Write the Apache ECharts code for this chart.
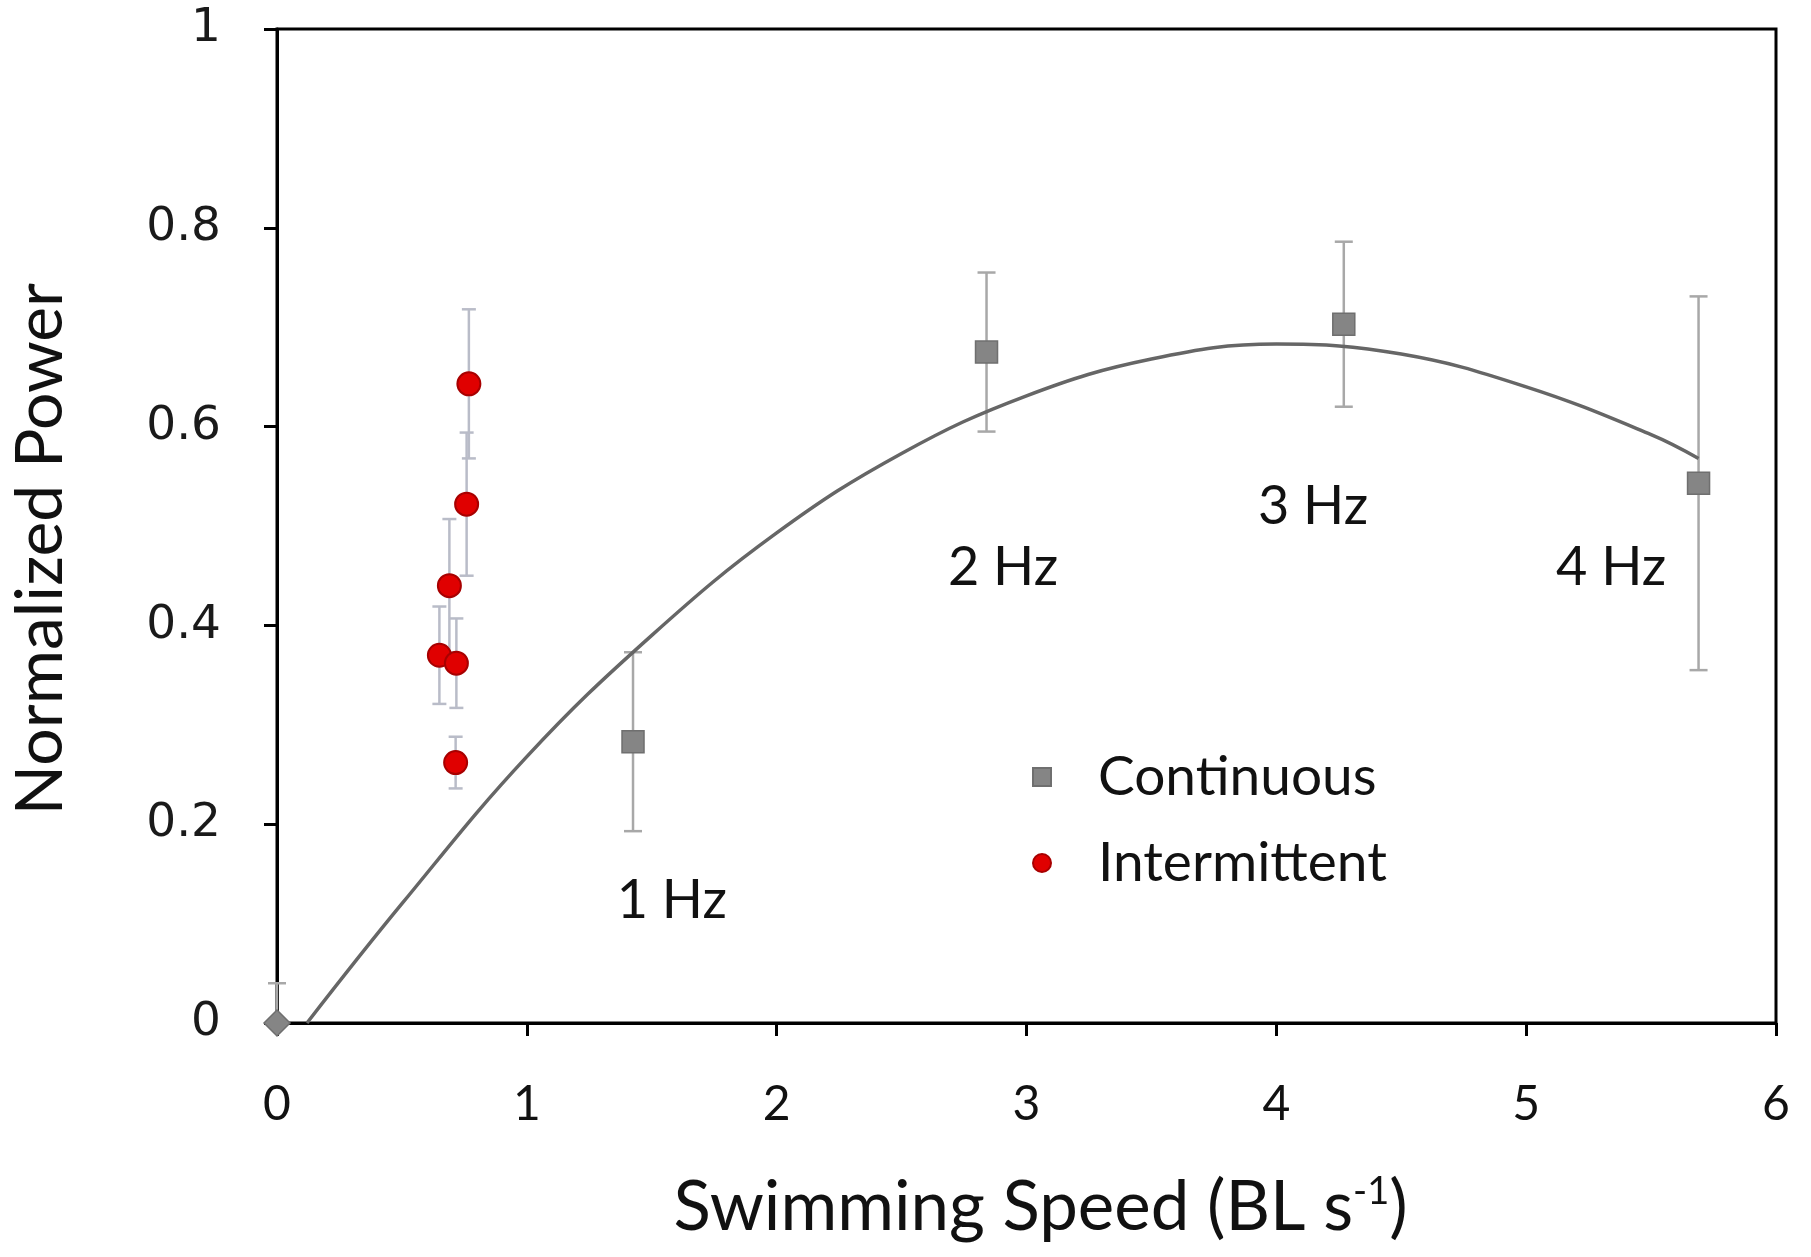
<!DOCTYPE html>
<html>
<head>
<meta charset="utf-8">
<script src="https://cdn.jsdelivr.net/npm/echarts@6/dist/echarts.min.js"></script>
<style>
  html, body { margin: 0; padding: 0; background: #fff; }
  #chart { width: 1811px; height: 1257px; }
</style>
</head>
<body>
<div id="chart"></div>
<script>
// ---- data ----
const xTickLabels = ['0', '1', '2', '3', '4', '5', '6'];
const yTickLabels = ['0', '0.2', '0.4', '0.6', '0.8', '1'];

const contX   = [0, 1.425, 2.84, 4.27, 5.69];
const contY   = [0, 0.283, 0.675, 0.703, 0.543];
const contErr = [0.04, 0.09, 0.08, 0.083, 0.188];

const intX   = [0.768, 0.759, 0.69, 0.65, 0.718, 0.715];
const intY   = [0.643, 0.522, 0.44, 0.37, 0.362, 0.262];
const intErr = [0.075, 0.072, 0.067, 0.049, 0.045, 0.026];

// trendline
const curveX = [0.12, 0.5, 1.0, 1.5, 2.0, 2.5, 3.0, 3.5, 4.0, 4.5, 5.0, 5.5, 5.69];
const curveY = [0, 0.12, 0.268, 0.39, 0.493, 0.573, 0.631, 0.668, 0.683, 0.673, 0.64, 0.592, 0.568];

const hzText = ['1 Hz', '2 Hz', '3 Hz', '4 Hz'];
const hzX = [1.58, 2.906, 4.147, 5.34];
const hzY = [0.123, 0.458, 0.52, 0.458];

// ---- build ----
const contPts = contX.map((x, i) => [x, contY[i]]);
const contBars = contX.map((x, i) => [x, Math.max(0, contY[i] - contErr[i]), contY[i] + contErr[i]]);
const intPts = intX.map((x, i) => [x, intY[i]]);
const intBars = intX.map((x, i) => [x, intY[i] - intErr[i], intY[i] + intErr[i]]);
const curvePts = curveX.map((x, i) => [x, curveY[i]]);
const hzPts = hzX.map((x, i) => ({ value: [x, hzY[i]], name: hzText[i] }));

function errRender(capW, color, lw) {
  return function (params, api) {
    const x = api.value(0), lo = api.value(1), hi = api.value(2);
    const pHi = api.coord([x, hi]);
    const pLo = api.coord([x, lo]);
    const st = { stroke: color, lineWidth: lw };
    return {
      type: 'group',
      children: [
        { type: 'line', shape: { x1: pHi[0], y1: pHi[1], x2: pLo[0], y2: pLo[1] }, style: st },
        { type: 'line', shape: { x1: pHi[0] - capW / 2, y1: pHi[1], x2: pHi[0] + capW / 2, y2: pHi[1] }, style: st },
        { type: 'line', shape: { x1: pLo[0] - capW / 2, y1: pLo[1], x2: pLo[0] + capW / 2, y2: pLo[1] }, style: st }
      ]
    };
  };
}

const chart = echarts.init(document.getElementById('chart'));
const titleFont = 'Lato, "Open Sans", sans-serif';

chart.setOption({
  animation: false,
  backgroundColor: '#ffffff',
  grid: {
    left: 277, right: 35, top: 29, bottom: 234,
    show: true, borderColor: '#000', borderWidth: 3, backgroundColor: 'transparent'
  },
  legend: {
    data: ['Continuous', 'Intermittent'],
    orient: 'vertical',
    left: 1027, top: 744,
    itemWidth: 18, itemHeight: 18, itemGap: 30,
    textStyle: { fontFamily: titleFont, fontSize: 55, color: '#111', lineHeight: 56, padding: [0, 0, 0, 42] }
  },
  xAxis: {
    type: 'value', min: 0, max: 6, interval: 1,
    name: 'Swimming Speed (BL s{sup|-1})',
    nameLocation: 'middle', nameGap: 150,
    nameTextStyle: {
      fontFamily: titleFont, fontSize: 69, color: '#111', padding: [0, 0, 0, 28],
      rich: { sup: { fontFamily: titleFont, fontSize: 38, verticalAlign: 'top', padding: [0, 0, 30, 0], color: '#111' } }
    },
    axisLine: { show: true, onZero: false, lineStyle: { color: '#000', width: 3 } },
    axisTick: { show: true, inside: false, length: 13, lineStyle: { color: '#000', width: 3 } },
    axisLabel: {
      margin: 58, fontFamily: titleFont, fontSize: 48, color: '#111',
      formatter: v => xTickLabels[Math.round(v)]
    },
    splitLine: { show: false }
  },
  yAxis: {
    type: 'value', min: 0, max: 1, interval: 0.2,
    name: 'Normalized Power',
    nameLocation: 'middle', nameGap: 203, nameRotate: 90,
    nameTextStyle: { fontFamily: titleFont, fontSize: 66, color: '#111', padding: [0, 46, 0, 0] },
    axisLine: { show: true, onZero: false, lineStyle: { color: '#000', width: 3 } },
    axisTick: { show: true, inside: false, length: 13, lineStyle: { color: '#000', width: 3 } },
    axisLabel: {
      margin: 56, fontFamily: '"DejaVu Sans"', fontSize: 47, color: '#1a1a1a',
      formatter: v => yTickLabels[Math.round(v * 5)]
    },
    splitLine: { show: false }
  },
  series: [
    {
      name: 'contErr', type: 'custom', renderItem: errRender(18, '#a8a8a8', 2.5),
      data: contBars, z: 1, silent: true, encode: { x: 0, y: [1, 2] }
    },
    {
      name: 'intErr', type: 'custom', renderItem: errRender(14, '#b9bcc8', 2.5),
      data: intBars, z: 1, silent: true, encode: { x: 0, y: [1, 2] }
    },
    {
      name: 'trend', type: 'line', data: curvePts, smooth: 0.4, showSymbol: false,
      lineStyle: { color: '#666666', width: 3.5 }, z: 2, silent: true
    },
    {
      name: 'Continuous', type: 'scatter',
      data: contPts.map((p, i) => i === 0 ? { value: p, symbol: 'diamond', symbolSize: 26 } : { value: p }),
      symbol: 'rect', symbolSize: 22,
      itemStyle: { color: '#858585', borderColor: '#6f6f6f', borderWidth: 1.5, opacity: 1 },
      z: 3
    },
    {
      name: 'Intermittent', type: 'scatter', data: intPts,
      symbol: 'circle', symbolSize: 23,
      itemStyle: { color: '#e00000', borderColor: '#a80000', borderWidth: 2, opacity: 1 },
      z: 4
    },
    {
      name: 'hzLabels', type: 'scatter', data: hzPts, symbolSize: 0, silent: true,
      itemStyle: { opacity: 1 },
      label: {
        show: true, position: 'inside', formatter: p => p.name,
        fontFamily: titleFont, fontSize: 54, color: '#111', opacity: 1
      },
      z: 5
    }
  ]
});
</script>
</body>
</html>
